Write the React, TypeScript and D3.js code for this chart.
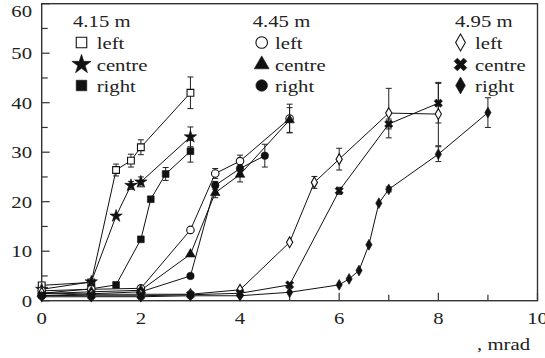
import React from "react";
import * as d3 from "d3";

// Beam-angle sweep, three distances (4.15 m, 4.45 m, 4.95 m), three positions each
const xTicks = [0, 2, 4, 6, 8, 10];
const yTicks = [0, 10, 20, 30, 40, 50, 60];

const d415LeftX = [0, 1, 1.5, 1.8, 2, 3];
const d415LeftY = [3.1, 3.7, 26.4, 28.3, 31, 42];
const d415LeftErr = [0, 0, 1.2, 1.3, 1.5, 3.2];

const d415CentreX = [0, 1, 1.5, 1.8, 2, 3];
const d415CentreY = [2.3, 3.8, 17.1, 23.3, 24, 33.1];
const d415CentreErr = [0, 0, 0, 0.8, 1, 2];

const d415RightX = [0, 1, 1.5, 2, 2.2, 2.5, 3];
const d415RightY = [1.5, 2.4, 3.2, 12.4, 20.5, 25.6, 30.2];
const d415RightErr = [0, 0, 0, 0, 0, 1.3, 2.2];

const d445LeftX = [0, 1, 2, 3, 3.5, 4, 5];
const d445LeftY = [2, 2.3, 2.5, 14.3, 25.7, 28.2, 36.8];
const d445LeftErr = [0, 0, 0, 0, 1, 1.2, 2.9];

const d445CentreX = [0, 1, 2, 3, 3.5, 4, 5];
const d445CentreY = [1.4, 1.8, 2.1, 9.4, 21.8, 25.5, 36.5];
const d445CentreErr = [0, 0, 0, 0, 1, 1.5, 2.5];

const d445RightX = [0, 1, 2, 3, 3.5, 4, 4.5];
const d445RightY = [1, 1.4, 1.8, 5, 23.3, 26.7, 29.3];
const d445RightErr = [0, 0, 0, 0, 0.8, 1, 2.3];

const d495LeftX = [0, 1, 2, 3, 4, 5, 5.5, 6, 7, 8];
const d495LeftY = [1.6, 1.3, 1.3, 1.3, 2.2, 11.8, 23.9, 28.6, 37.9, 37.7];
const d495LeftErr = [0, 0, 0, 0, 0, 0, 1.2, 2.2, 5, 6.4];

const d495CentreX = [0, 1, 2, 3, 4, 5, 6, 7, 8];
const d495CentreY = [1.1, 1, 1, 1.2, 1.5, 3.2, 22.2, 35.7, 39.9];
const d495CentreErr = [0, 0, 0, 0, 0, 0, 0.7, 1, 4];

const d495RightX = [0, 1, 2, 3, 4, 5, 6, 6.2, 6.4, 6.6, 6.8, 7, 8, 9];
const d495RightY = [0.8, 0.8, 0.8, 1, 1, 1.7, 3.2, 4.4, 6.1, 11.3, 19.7, 22.5, 29.6, 38];
const d495RightErr = [0, 0, 0, 0, 0, 0, 0, 0, 0, 0, 0, 0.5, 1.5, 3];

type Marker = "square" | "star" | "circle" | "triangle" | "diamond" | "cross";

interface Series {
  xs: number[];
  ys: number[];
  errs: number[];
  marker: Marker;
  filled: boolean;
}

const series: Series[] = [
  { xs: d415LeftX, ys: d415LeftY, errs: d415LeftErr, marker: "square", filled: false },
  { xs: d415CentreX, ys: d415CentreY, errs: d415CentreErr, marker: "star", filled: true },
  { xs: d415RightX, ys: d415RightY, errs: d415RightErr, marker: "square", filled: true },
  { xs: d445LeftX, ys: d445LeftY, errs: d445LeftErr, marker: "circle", filled: false },
  { xs: d445CentreX, ys: d445CentreY, errs: d445CentreErr, marker: "triangle", filled: true },
  { xs: d445RightX, ys: d445RightY, errs: d445RightErr, marker: "circle", filled: true },
  { xs: d495LeftX, ys: d495LeftY, errs: d495LeftErr, marker: "diamond", filled: false },
  { xs: d495CentreX, ys: d495CentreY, errs: d495CentreErr, marker: "cross", filled: true },
  { xs: d495RightX, ys: d495RightY, errs: d495RightErr, marker: "diamond", filled: true },
];

const legendTitles = ["4.15 m", "4.45 m", "4.95 m"];
const legendRows = ["left", "centre", "right"];

const W = 545;
const H = 358;
const x = d3.scaleLinear().domain([0, 10]).range([41.7, 537.5]);
const y = d3.scaleLinear().domain([0, 60]).range([300.7, 3.7]);

const FONT = "'Liberation Serif', 'Times New Roman', serif";
const FS = 17;
const SX = 1.22;

const symbolPath = (m: Marker, scale: number): string => {
  const base: Record<Marker, [d3.SymbolType, number]> = {
    square: [d3.symbolSquare, 46],
    star: [d3.symbolStar, 48],
    circle: [d3.symbolCircle, 44],
    triangle: [d3.symbolTriangle, 40],
    diamond: [d3.symbolDiamond, 34],
    cross: [d3.symbolCross, 42],
  };
  const [t, s] = base[m];
  return d3.symbol().type(t).size(s * scale)() as string;
};

function Mark({ m, filled, cx, cy, scale = 1 }: { m: Marker; filled: boolean; cx: number; cy: number; scale?: number }) {
  const rot = m === "cross" ? " rotate(45)" : "";
  return (
    <path
      d={symbolPath(m, scale)}
      transform={`translate(${cx},${cy})${rot}`}
      fill={filled ? "#111" : "#fff"}
      stroke="#111"
      strokeWidth={filled ? 0.6 : 1.1}
    />
  );
}

function T({ x0, y0, anchor = "start", children }: { x0: number; y0: number; anchor?: string; children: React.ReactNode }) {
  return (
    <text
      transform={`translate(${x0},${y0}) scale(${SX},1)`}
      textAnchor={anchor as any}
      fontFamily={FONT}
      fontSize={FS}
      fill="#222"
    >
      {children}
    </text>
  );
}

export default function App() {
  const line = d3
    .line<[number, number]>()
    .x((d) => x(d[0]))
    .y((d) => y(d[1]));

  const legendX = [73, 252.7, 455];
  const markerX = [81.5, 261.7, 460.5];
  const textX = [96.7, 275, 475];
  const baselines = [27, 48.5, 70.5, 91.5];

  return (
    <svg width={W} height={H} style={{ position: "absolute", left: 0, top: 0, background: "#fff" }}>
      {/* frame */}
      <rect
        x={x(0)}
        y={y(60)}
        width={x(10) - x(0)}
        height={y(0) - y(60)}
        fill="none"
        stroke="#333"
        strokeWidth={1.4}
      />
      {/* inward ticks */}
      {d3.range(0, 11).map((v) => (
        <line key={`xt${v}`} x1={x(v)} x2={x(v)} y1={y(0)} y2={y(0) - (v % 2 === 0 ? 8 : 6)} stroke="#333" strokeWidth={1.2} />
      ))}
      {d3.range(0, 61, 5).map((v) => (
        <line key={`yt${v}`} x1={x(0)} x2={x(0) + (v % 10 === 0 ? 8 : 6)} y1={y(v)} y2={y(v)} stroke="#333" strokeWidth={1.2} />
      ))}
      {xTicks.map((v) => (
        <T key={`xl${v}`} x0={x(v)} y0={324} anchor="middle">
          {v}
        </T>
      ))}
      {yTicks.map((v) => (
        <T key={`yl${v}`} x0={32} y0={v === 60 ? 16.5 : y(v) + 5.8} anchor="end">
          {v}
        </T>
      ))}
      <T x0={530} y0={350} anchor="end">
        , mrad
      </T>

      {/* connecting lines */}
      {series.map((s, i) => (
        <path
          key={`ln${i}`}
          d={line(s.xs.map((v, j) => [v, s.ys[j]] as [number, number])) as string}
          fill="none"
          stroke="#111"
          strokeWidth={1}
        />
      ))}
      {/* error bars */}
      {series.map((s, i) =>
        s.xs.map((v, j) =>
          s.errs[j] > 0 ? (
            <g key={`e${i}-${j}`} stroke="#222" strokeWidth={1}>
              <line x1={x(v)} x2={x(v)} y1={y(s.ys[j] + s.errs[j])} y2={y(s.ys[j] - s.errs[j])} />
              <line x1={x(v) - 3} x2={x(v) + 3} y1={y(s.ys[j] + s.errs[j])} y2={y(s.ys[j] + s.errs[j])} />
              <line x1={x(v) - 3} x2={x(v) + 3} y1={y(s.ys[j] - s.errs[j])} y2={y(s.ys[j] - s.errs[j])} />
            </g>
          ) : null
        )
      )}
      {/* markers */}
      {series.map((s, i) =>
        s.xs.map((v, j) => <Mark key={`m${i}-${j}`} m={s.marker} filled={s.filled} cx={x(v)} cy={y(s.ys[j])} />)
      )}

      {/* legends */}
      {legendTitles.map((title, g) => (
        <g key={`lg${g}`}>
          <T x0={legendX[g]} y0={baselines[0]}>
            {title}
          </T>
          {legendRows.map((r, k) => {
            const s = series[g * 3 + k];
            return (
              <g key={`lr${g}-${k}`}>
                <Mark m={s.marker} filled={s.filled} cx={markerX[g]} cy={baselines[k + 1] - 6} scale={2.4} />
                <T x0={textX[g]} y0={baselines[k + 1]}>
                  {r}
                </T>
              </g>
            );
          })}
        </g>
      ))}
    </svg>
  );
}
